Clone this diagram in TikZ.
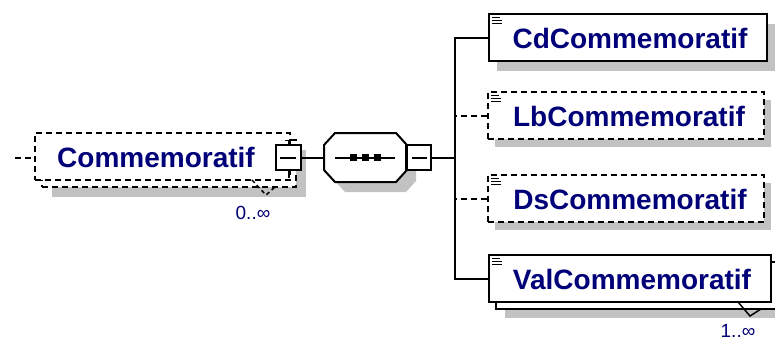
\documentclass[tikz,border=0pt]{standalone}
\usepackage{fontspec}
\setmainfont{Liberation Sans}
\definecolor{txt}{RGB}{0,0,120}
\definecolor{shd}{RGB}{194,194,194}
\tikzset{
  elembox/.style={draw=black, fill=white, line width=2pt, inner sep=0pt, minimum height=47pt},
  optelembox/.style={elembox, dash pattern=on 6pt off 4pt},
  shadowbox/.style={fill=shd, draw=none, inner sep=0pt, minimum height=47pt},
  lbl/.style={font=\bfseries\fontsize{28}{28}\selectfont, text=txt, inner sep=0pt},
  mult/.style={font=\fontsize{19}{19}\selectfont, text=txt, inner sep=0pt},
  conn/.style={line width=2pt},
  optconn/.style={conn, dash pattern=on 6pt off 4pt},
  minusbox/.style={draw=black, fill=white, line width=2pt, minimum width=25pt, minimum height=25pt, inner sep=0pt},
  iconline/.style={line width=1.2pt},
}
\begin{document}
\begin{tikzpicture}[x=1pt,y=-1pt]
\useasboundingbox (0,0) rectangle (775,343);
\clip (0,0) rectangle (775,343);

% ---------- root element Commemoratif (optional, repeating) ----------
\node[shadowbox, minimum width=254pt] (rootshd) at (179,173.5) {};
\node[optelembox, minimum width=254pt] (rootback) at (169,163.5) {};
\node[optelembox, minimum width=255pt] (root) at (162.5,156.5) {};
\node[lbl] (rootlbl) at (156,157) {Commemoratif};
\draw[dash pattern=on 4pt off 3pt, line width=1.5pt] (252,180) -- (266,195) -- (275,187);
\node[mult] (rootmult) at (253,213) {0..∞};
\node[minusbox] (rootm) at (288,157.5) {};
\draw[conn] ([xshift=-8pt]rootm.center) -- ([xshift=8pt]rootm.center);
\draw[line width=1.5pt] (285,140.5) -- (292,140.5);
\draw[line width=1.5pt] (288.5,140.5) -- (288.5,145);
\draw[line width=1.5pt] (289,170) -- (289,178);

\coordinate (in) at (15,157.5);
\draw[optconn] (in) -- (in -| root.west);

% ---------- sequence compositor ----------
\node[inner sep=0pt, minimum width=82pt, minimum height=49pt] (seq) at (365,157.5) {};
\fill[shd, shift={(10,10)}] (324,145) -- (335,133) -- (396,133) -- (406,144) -- (406,171) -- (396,182) -- (335,182) -- (324,170) -- cycle;
\filldraw[fill=white, draw=black, line width=2pt] (324,145) -- (335,133) -- (396,133) -- (406,144) -- (406,171) -- (396,182) -- (335,182) -- (324,170) -- cycle;
\draw[conn] (335,157.5) -- (395,157.5);
\foreach \cx in {353,365,377} {\fill (\cx-3.5,154) rectangle (\cx+3.5,161);}
\node[minusbox, minimum width=24pt] (seqm) at (419,157.5) {};
\draw[conn] ([xshift=-7.5pt]seqm.center) -- ([xshift=7.5pt]seqm.center);

\draw[conn] (rootm.east) -- (seq.west);

% ---------- children ----------
\node[shadowbox, minimum width=278pt] (cdshd) at (636,47.5) {};
\node[elembox, minimum width=278pt] (cd) at (628,37.5) {};
\node[lbl] (cdlbl) at (630,38) {CdCommemoratif};

\node[shadowbox, minimum width=276pt] (lbshd) at (633,123.5) {};
\node[optelembox, minimum width=276pt] (lb) at (626,115.5) {};
\node[lbl] (lblbl) at (629,116) {LbCommemoratif};

\node[shadowbox, minimum width=276pt] (dsshd) at (633,206.5) {};
\node[optelembox, minimum width=276pt] (ds) at (626,198.5) {};
\node[lbl] (dslbl) at (630,199) {DsCommemoratif};

\node[shadowbox, minimum width=282pt] (valshd) at (646,294.5) {};
\node[elembox, minimum width=282pt] (valback) at (637,285.5) {};
\node[elembox, minimum width=282pt] (val) at (630,278.5) {};
\node[lbl] (vallbl) at (632,279) {ValCommemoratif};
\draw[line width=1.5pt] (738,302) -- (750,316) -- (761,309);
\node[mult] (valmult) at (738,331) {1..∞};

% element icons
\foreach \n in {cd,lb,ds,val} {
  \draw[iconline] ([shift={(4,4.5)}]\n.north west) -- ++(8,0);
  \draw[iconline] ([shift={(4,7.5)}]\n.north west) -- ++(10,0);
  \draw[iconline] ([shift={(4,10.5)}]\n.north west) -- ++(10,0);
}

% connectors
\coordinate (j) at (455,157.5);
\draw[conn] (seqm.east) -- (j);
\draw[conn] (cd.west) -| (j);
\draw[conn] (val.west) -| (j);
\draw[optconn] (lb.west) -- (lb.west -| j);
\draw[optconn] (ds.west) -- (ds.west -| j);
\end{tikzpicture}
\end{document}
